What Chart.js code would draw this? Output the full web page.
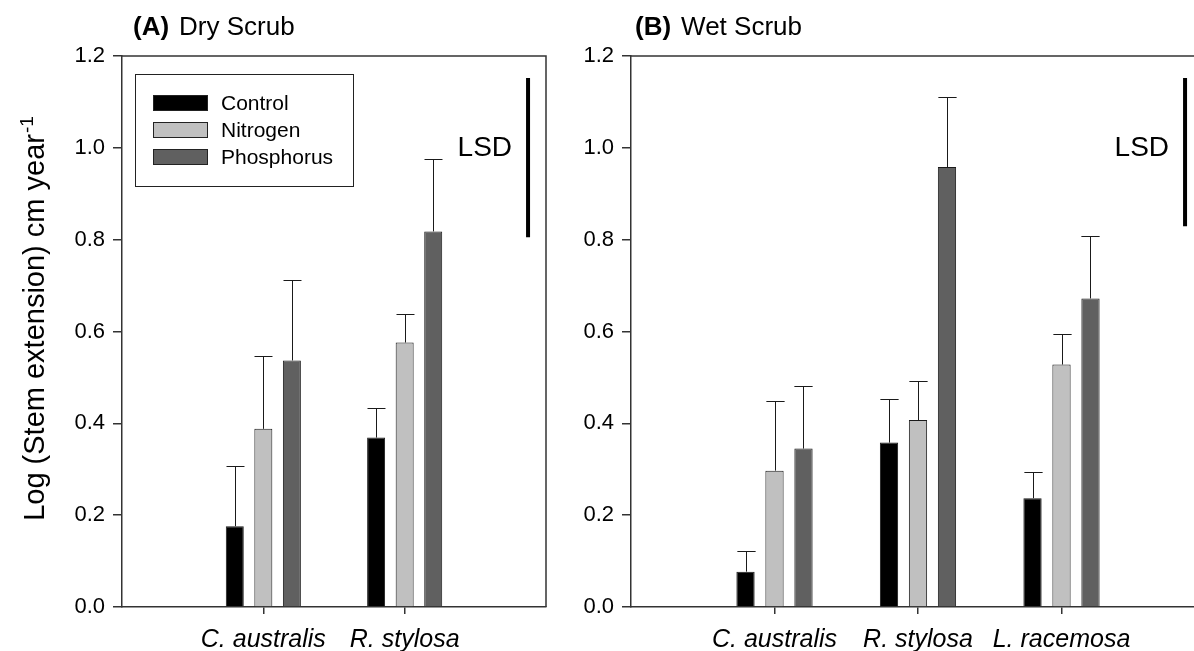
<!DOCTYPE html>
<html>
<head>
<meta charset="utf-8">
<script src="https://cdn.jsdelivr.net/npm/chart.js@4"></script>
<style>
  html, body { margin: 0; padding: 0; background: #fff; overflow: hidden; }
  #wrapA { position: absolute; left: 0; top: 0; width: 580px; height: 651px; }
  #wrapB { position: absolute; left: 580px; top: 0; width: 625px; height: 651px; }
</style>
</head>
<body>
<div id="wrapA"><canvas id="dry"></canvas></div>
<div id="wrapB"><canvas id="wet"></canvas></div>
<script>
// values
const treatments = ['Control', 'Nitrogen', 'Phosphorus'];

const dryLabels = ['C. australis', 'R. stylosa'];
const dryControl = [0.176, 0.369];
const dryNitrogen = [0.388, 0.576];
const dryPhosphorus = [0.537, 0.818];
const dryControlErr = [0.130, 0.065];
const dryNitrogenErr = [0.159, 0.063];
const dryPhosphorusErr = [0.176, 0.157];
const dryLsd = 0.347;

const wetLabels = ['C. australis', 'R. stylosa', 'L. racemosa'];
const wetControl = [0.077, 0.358, 0.237];
const wetNitrogen = [0.297, 0.407, 0.528];
const wetPhosphorus = [0.345, 0.958, 0.672];
const wetControlErr = [0.046, 0.095, 0.056];
const wetNitrogenErr = [0.151, 0.086, 0.067];
const wetPhosphorusErr = [0.136, 0.153, 0.135];
const wetLsd = 0.323;

const yTicks = [0, 0.2, 0.4, 0.6, 0.8, 1.0, 1.2];

const FONT = '"Liberation Sans", Arial, sans-serif';
const barColors = ['#000000', '#c0c0c0', '#606060'];
const lineColor = '#333';

// error bars: only the upper whisker, cap as wide as the bar
const errorBars = {
    id: 'errorBars',
    afterDatasetsDraw(chart) {
        const { ctx } = chart;
        const y = chart.scales.y;
        ctx.save();
        ctx.strokeStyle = '#1a1a1a';
        ctx.lineWidth = 1;
        chart.data.datasets.forEach((ds, k) => {
            chart.getDatasetMeta(k).data.forEach((bar, i) => {
                const top = Math.round(y.getPixelForValue(ds.data[i].y + ds.err[i])) + 0.5;
                const cx = Math.round(bar.x) + 0.5;
                const half = bar.width / 2;
                ctx.beginPath();
                ctx.moveTo(cx, bar.y);
                ctx.lineTo(cx, top);
                ctx.moveTo(cx - half, top);
                ctx.lineTo(cx + half, top);
                ctx.stroke();
            });
        });
        ctx.restore();
    }
};

// frame: top and right lines of the plot box
const frame = {
    id: 'frame',
    afterDraw(chart) {
        const { ctx, chartArea: a } = chart;
        ctx.save();
        ctx.strokeStyle = lineColor;
        ctx.lineWidth = 1.5;
        ctx.beginPath();
        ctx.moveTo(a.left, a.top);
        ctx.lineTo(a.right, a.top);
        ctx.lineTo(a.right, a.bottom);
        ctx.stroke();
        ctx.restore();
    }
};

const lsdBar = {
    id: 'lsdBar',
    afterDraw(chart, args, o) {
        const { ctx } = chart;
        const x = chart.scales.x.getPixelForValue(o.x);
        const y = chart.scales.y;
        ctx.save();
        ctx.strokeStyle = '#000';
        ctx.lineWidth = 4;
        ctx.beginPath();
        ctx.moveTo(x, y.getPixelForValue(o.top));
        ctx.lineTo(x, y.getPixelForValue(o.top - o.value));
        ctx.stroke();
        ctx.fillStyle = '#000';
        ctx.font = '28px ' + FONT;
        ctx.textAlign = 'right';
        ctx.textBaseline = 'middle';
        ctx.fillText('LSD', x - 16, y.getPixelForValue(o.textAt));
        ctx.restore();
    }
};

const panelTitle = {
    id: 'panelTitle',
    afterDraw(chart, args, o) {
        const { ctx } = chart;
        ctx.save();
        ctx.fillStyle = '#000';
        ctx.textBaseline = 'alphabetic';
        ctx.font = 'bold 26px ' + FONT;
        ctx.fillText(o.tag, o.x, o.y);
        const w = ctx.measureText(o.tag).width;
        ctx.font = '26px ' + FONT;
        ctx.fillText(o.text, o.x + w + 10, o.y);
        ctx.restore();
    }
};

const boxLegend = {
    id: 'boxLegend',
    afterDraw(chart, args, o) {
        if (!o.show) return;
        const { ctx, chartArea: a } = chart;
        const bx = a.left + 13, by = a.top + 18;
        ctx.save();
        ctx.strokeStyle = '#222';
        ctx.lineWidth = 1;
        ctx.strokeRect(bx + 0.5, by + 0.5, 218, 112);
        ctx.font = '21px ' + FONT;
        ctx.textBaseline = 'middle';
        chart.data.datasets.forEach((ds, k) => {
            const cy = by + 29 + k * 27;
            ctx.fillStyle = ds.backgroundColor;
            ctx.fillRect(bx + 18, cy - 8, 55, 16);
            ctx.strokeRect(bx + 18.5, cy - 7.5, 54, 15);
            ctx.fillStyle = '#000';
            ctx.fillText(ds.label, bx + 86, cy + 1);
        });
        ctx.restore();
    }
};

const yTitle = {
    id: 'yTitle',
    afterDraw(chart, args, o) {
        if (!o.show) return;
        const { ctx } = chart;
        ctx.save();
        ctx.translate(o.x, o.y);
        ctx.rotate(-Math.PI / 2);
        ctx.fillStyle = '#000';
        ctx.textBaseline = 'alphabetic';
        ctx.font = '29px ' + FONT;
        const w1 = ctx.measureText(o.text).width;
        ctx.font = '19px ' + FONT;
        const w2 = ctx.measureText(o.sup).width;
        const start = -(w1 + w2) / 2;
        ctx.font = '29px ' + FONT;
        ctx.fillText(o.text, start, 0);
        ctx.font = '19px ' + FONT;
        ctx.fillText(o.sup, start + w1 + 1, -11);
        ctx.restore();
    }
};

function makeChart(id, labels, series, errors, lsd, opt) {
    const datasets = treatments.map((t, k) => ({
        label: t,
        data: series[k].map((v, i) => ({ x: i + 1, y: v })),
        err: errors[k],
        backgroundColor: barColors[k],
        borderColor: '#1a1a1a',
        borderWidth: 1,
        barPercentage: 0.63,
        categoryPercentage: 0.606
    }));

    return new Chart(document.getElementById(id), {
        type: 'bar',
        data: { datasets },
        plugins: [errorBars, frame, lsdBar, panelTitle, boxLegend, yTitle],
        options: {
            responsive: true,
            maintainAspectRatio: false,
            devicePixelRatio: 1,
            animation: false,
            layout: { padding: { top: 56, right: opt.padRight, left: 0, bottom: 0 } },
            plugins: {
                legend: { display: false },
                tooltip: { enabled: false },
                lsdBar: { x: opt.lsdX, top: 1.152, value: lsd, textAt: 1.0 },
                panelTitle: { tag: opt.tag, text: opt.title, x: opt.titleX, y: 35 },
                boxLegend: { show: opt.legend },
                yTitle: { show: opt.yTitle, text: 'Log (Stem extension) cm year', sup: '-1', x: 44, y: 319 }
            },
            scales: {
                x: {
                    type: 'linear',
                    min: 0,
                    max: opt.xMax,
                    offset: false,
                    afterBuildTicks: (axis) => { axis.ticks = labels.map((l, i) => ({ value: i + 1 })); },
                    afterFit: (axis) => { axis.height = 44; },
                    ticks: {
                        color: '#000',
                        font: { family: FONT, size: 25, style: 'italic' },
                        padding: 11,
                        maxRotation: 0,
                        autoSkip: false,
                        callback: (v) => labels[v - 1] ?? ''
                    },
                    grid: { offset: false, drawOnChartArea: false, drawTicks: true, tickLength: 7, color: lineColor, lineWidth: 1.5 },
                    border: { display: true, color: lineColor, width: 1.5 }
                },
                y: {
                    min: 0,
                    max: 1.2,
                    afterBuildTicks: (axis) => { axis.ticks = yTicks.map(v => ({ value: v })); },
                    afterFit: (axis) => { axis.width = opt.yWidth; },
                    ticks: {
                        color: '#000',
                        font: { family: FONT, size: 22 },
                        padding: 8,
                        callback: (v) => v.toFixed(1)
                    },
                    grid: { drawOnChartArea: false, drawTicks: true, tickLength: 9, color: lineColor, lineWidth: 1.5 },
                    border: { display: true, color: lineColor, width: 1.5 }
                }
            }
        }
    });
}

makeChart('dry', dryLabels,
    [dryControl, dryNitrogen, dryPhosphorus],
    [dryControlErr, dryNitrogenErr, dryPhosphorusErr],
    dryLsd,
    { tag: '(A)', title: 'Dry Scrub', titleX: 133, xMax: 3, padRight: 34, yWidth: 122, lsdX: 2.873, legend: true, yTitle: true });

makeChart('wet', wetLabels,
    [wetControl, wetNitrogen, wetPhosphorus],
    [wetControlErr, wetNitrogenErr, wetPhosphorusErr],
    wetLsd,
    { tag: '(B)', title: 'Wet Scrub', titleX: 55, xMax: 4, padRight: 0, yWidth: 51, lsdX: 3.861, legend: false, yTitle: false });
</script>
</body>
</html>
